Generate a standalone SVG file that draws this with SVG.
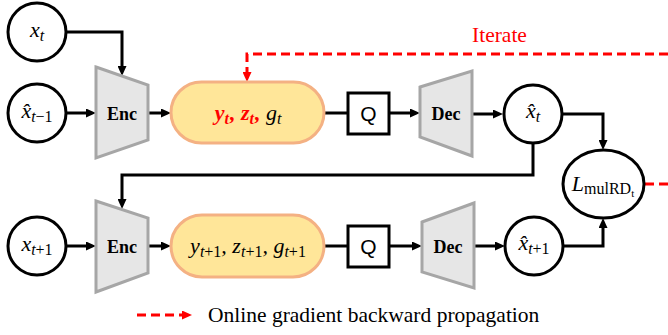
<svg xmlns="http://www.w3.org/2000/svg" width="668" height="335" viewBox="0 0 668 335">
<defs>
<style>
.node{fill:#fff;stroke:#000;stroke-width:3}
.trap{fill:#e6e6e6;stroke:#a6a6a6;stroke-width:3}
.pill{fill:#ffe699;stroke:#f4b183;stroke-width:3}
.qbox{fill:#fff;stroke:#000;stroke-width:3}
.wire{fill:none;stroke:#000;stroke-width:3}
.red{fill:none;stroke:#ff0000;stroke-width:3;stroke-dasharray:9 5}
.lbl{font-family:"Liberation Serif",serif;font-weight:bold;font-size:18px;text-anchor:middle}
.math{font-family:"Liberation Serif",serif;font-style:italic;font-size:22px;text-anchor:middle}
.sub{font-size:16px}
.rm{font-style:normal}
.cap{font-family:"Liberation Serif",serif;font-size:21.5px}
.q{font-family:"Liberation Sans",sans-serif;font-size:21px;text-anchor:middle}
.rb{fill:#ff0000;font-weight:bold}
</style>
<marker id="ah" markerUnits="userSpaceOnUse" markerWidth="10" markerHeight="9" refX="2" refY="4.5" orient="auto">
<path d="M0,0 L10,4.5 L0,9 z" fill="#000"/>
</marker>
<marker id="ahr" markerUnits="userSpaceOnUse" markerWidth="10" markerHeight="9" refX="2" refY="4.5" orient="auto">
<path d="M0,0 L10,4.5 L0,9 z" fill="#ff0000"/>
</marker>
</defs>

<g id="connectors">
<path class="wire" d="M66,32 H122 V68" marker-end="url(#ah)"/>
<path class="wire" d="M67,113 H88" marker-end="url(#ah)"/>
<path class="wire" d="M148,113 H163" marker-end="url(#ah)"/>
<path class="wire" d="M324,113 H348"/>
<path class="wire" d="M389,113 H412" marker-end="url(#ah)"/>
<path class="wire" d="M472,114 H495" marker-end="url(#ah)"/>
<path class="wire" d="M562,114 H603 V142" marker-end="url(#ah)"/>
<path class="wire" d="M533,143 V175 H122 V201" marker-end="url(#ah)"/>
<path class="wire" d="M66,246 H88" marker-end="url(#ah)"/>
<path class="wire" d="M148,246 H163" marker-end="url(#ah)"/>
<path class="wire" d="M324,246 H348"/>
<path class="wire" d="M389,246 H414" marker-end="url(#ah)"/>
<path class="wire" d="M474,246 H497" marker-end="url(#ah)"/>
<path class="wire" d="M563,246 H603 V226" marker-end="url(#ah)"/>
<path class="red" d="M668,54 H247 V74" marker-end="url(#ahr)"/>
<path class="red" d="M645,184 H668"/>
<path class="red" d="M137,315 H184" marker-end="url(#ahr)"/>
</g>

<g id="x_t">
<circle class="node" cx="37" cy="32" r="29"/>
<text class="math" x="37" y="37">x<tspan class="sub" dy="4">t</tspan></text>
</g>
<g id="xhat_tm1">
<circle class="node" cx="37" cy="113" r="29"/>
<text class="math" x="37" y="118">x̂<tspan class="sub" dy="4">t<tspan class="rm">−1</tspan></tspan></text>
</g>
<g id="enc_t">
<polygon class="trap" points="96,67 148,85 148,140 96,158"/>
<text class="lbl" x="122" y="120">Enc</text>
</g>
<g id="latent_t">
<rect class="pill" x="171" y="82" width="153" height="61" rx="30.5"/>
<text class="math" x="248" y="120"><tspan class="rb">y</tspan><tspan class="sub rb" dy="4">t</tspan><tspan class="rb" dy="-4" dx="1">, z</tspan><tspan class="sub rb" dy="4">t</tspan><tspan class="rb" dy="-4" dx="1">, </tspan><tspan>g</tspan><tspan class="sub" dy="4">t</tspan></text>
</g>
<g id="q_t">
<rect class="qbox" x="348" y="93" width="41" height="41"/>
<text class="q" x="368.5" y="121">Q</text>
</g>
<g id="dec_t">
<polygon class="trap" points="420,87 472,71 472,156 420,137"/>
<text class="lbl" x="446" y="120">Dec</text>
</g>
<g id="xhat_t">
<circle class="node" cx="533" cy="114" r="29"/>
<text class="math" x="533" y="118">x̂<tspan class="sub" dy="4">t</tspan></text>
</g>
<g id="loss">
<ellipse class="node" cx="603.5" cy="184" rx="40.5" ry="34"/>
<text class="math" x="603" y="191">L<tspan class="sub rm" dy="3">mulRD<tspan font-size="11px" dy="3">t</tspan></tspan></text>
</g>

<g id="x_tp1">
<circle class="node" cx="37" cy="246" r="29"/>
<text class="math" x="37" y="251">x<tspan class="sub" dy="4">t<tspan class="rm">+1</tspan></tspan></text>
</g>
<g id="enc_tp1">
<polygon class="trap" points="96,201 148,218 148,273 96,292"/>
<text class="lbl" x="122" y="253">Enc</text>
</g>
<g id="latent_tp1">
<rect class="pill" x="171" y="215" width="153" height="62" rx="31"/>
<text class="math" x="248" y="253">y<tspan class="sub" dy="4">t<tspan class="rm">+1</tspan></tspan><tspan dy="-4">, z</tspan><tspan class="sub" dy="4">t<tspan class="rm">+1</tspan></tspan><tspan dy="-4">, g</tspan><tspan class="sub" dy="4">t<tspan class="rm">+1</tspan></tspan></text>
</g>
<g id="q_tp1">
<rect class="qbox" x="348" y="226" width="41" height="41"/>
<text class="q" x="368.5" y="254">Q</text>
</g>
<g id="dec_tp1">
<polygon class="trap" points="422,222 474,203 474,288 422,272"/>
<text class="lbl" x="448" y="253">Dec</text>
</g>
<g id="xhat_tp1">
<circle class="node" cx="534" cy="246" r="29"/>
<text class="math" x="534" y="250">x̂<tspan class="sub" dy="4">t<tspan class="rm">+1</tspan></tspan></text>
</g>

<text class="cap" x="472" y="42" fill="#ff0000">Iterate</text>
<text class="cap" x="208" y="322" fill="#000">Online gradient backward propagation</text>
</svg>
